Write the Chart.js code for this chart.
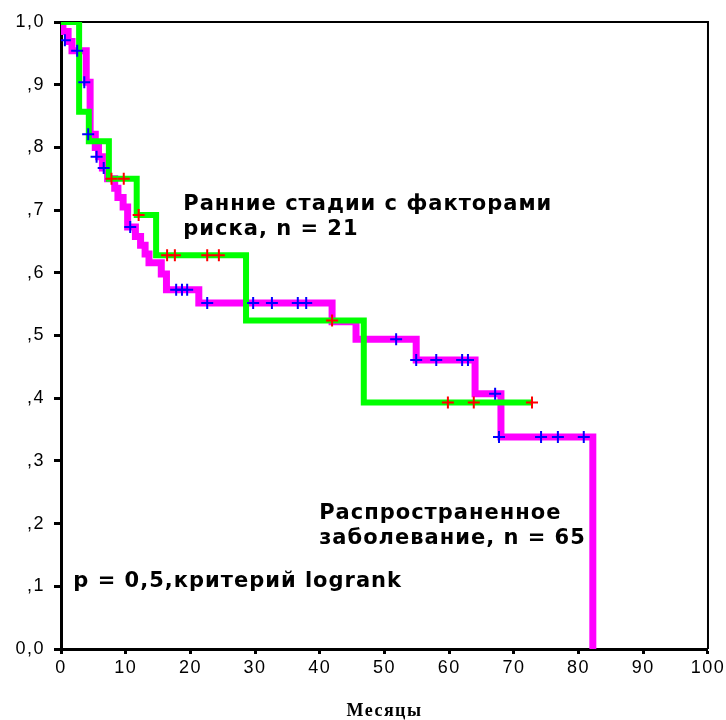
<!DOCTYPE html>
<html>
<head>
<meta charset="utf-8">
<script src="https://cdn.jsdelivr.net/npm/chart.js@4/dist/chart.umd.min.js"></script>
<style>
  body { margin: 0; background: #fff; }
  #wrap { width: 726px; height: 720px; position: relative; }
</style>
</head>
<body>
<div id="wrap"><canvas id="kmChart"></canvas></div>
<script>
// оси
const xTickLabels = ['0', '10', '20', '30', '40', '50', '60', '70', '80', '90', '100'];
const yTickLabels = ['0,0', ',1', ',2', ',3', ',4', ',5', ',6', ',7', ',8', ',9', '1,0'];
const xTitle = 'Месяцы';

// ранние стадии с факторами риска (n = 21) - зелёная линия
const earlyMonths = [0, 2.8, 4.3, 7.4, 11.7, 14.7, 28.6, 46.8, 72.8];
const earlySurv = [1.0, 0.857, 0.810, 0.750, 0.692, 0.628, 0.524, 0.393, 0.393];
const earlyCensMonths = [7.8, 9.7, 12.0, 16.4, 17.6, 22.6, 24.4, 41.9, 59.8, 63.8, 72.8];
const earlyCensSurv = [0.750, 0.750, 0.692, 0.628, 0.628, 0.628, 0.628, 0.524, 0.393, 0.393, 0.393];

// распространенное заболевание (n = 65) - розовая линия
const advMonths = [0, 0.3, 1.1, 1.7, 3.9, 4.5, 5.3, 5.8, 6.4, 7.2, 8.3, 8.8, 9.6, 10.3, 11.5, 12.3, 13.0, 13.6, 15.5, 16.3, 21.3, 41.9, 45.6, 54.9, 64.0, 68.0, 82.2];
const advSurv = [1.0, 0.985, 0.969, 0.954, 0.904, 0.821, 0.800, 0.785, 0.767, 0.750, 0.735, 0.720, 0.705, 0.673, 0.658, 0.644, 0.630, 0.616, 0.598, 0.573, 0.552, 0.522, 0.494, 0.461, 0.407, 0.338, 0];
const advCensMonths = [0.6, 2.5, 3.6, 4.2, 5.5, 6.6, 10.7, 17.8, 18.7, 19.5, 22.6, 29.7, 32.6, 36.6, 37.9, 51.8, 54.9, 58.0, 62.0, 62.9, 67.1, 67.7, 74.2, 76.8, 80.8];
const advCensSurv = [0.971, 0.954, 0.904, 0.821, 0.785, 0.767, 0.673, 0.573, 0.573, 0.573, 0.552, 0.552, 0.552, 0.552, 0.552, 0.494, 0.461, 0.461, 0.461, 0.461, 0.407, 0.338, 0.338, 0.338, 0.338];

// подписи на графике (x в месяцах, y - доля)
const notes = [
  { lines: ['Ранние стадии с факторами', 'риска, n = 21'], x: 18.9, y: 0.700 },
  { lines: ['Распространенное', 'заболевание, n = 65'], x: 39.9, y: 0.207 },
  { lines: ['p = 0,5,критерий logrank'], x: 1.9, y: 0.099 }
];

function toPoints(xs, ys) {
  return xs.map((x, i) => ({ x: x, y: ys[i] }));
}

// рамка сверху и справа
const frame = {
  id: 'frame',
  beforeDraw(chart) {
    chart.ctx.letterSpacing = '1.5px';
  },
  beforeDatasetsDraw(chart) {
    const { ctx, chartArea: a } = chart;
    ctx.save();
    ctx.strokeStyle = '#000';
    ctx.lineWidth = 2;
    ctx.beginPath();
    ctx.moveTo(a.left, a.top);
    ctx.lineTo(a.right, a.top);
    ctx.lineTo(a.right, a.bottom);
    ctx.stroke();
    ctx.restore();
  }
};

const labels = {
  id: 'labels',
  afterDatasetsDraw(chart) {
    const ctx = chart.ctx;
    const xs = chart.scales.x, ys = chart.scales.y;
    ctx.save();
    ctx.letterSpacing = '1px';
    ctx.fillStyle = '#000';
    ctx.font = 'bold 21px "DejaVu Sans"';
    ctx.textAlign = 'left';
    ctx.textBaseline = 'alphabetic';
    notes.forEach(n => {
      const px = xs.getPixelForValue(n.x);
      const py = ys.getPixelForValue(n.y);
      n.lines.forEach((line, i) => ctx.fillText(line, px, py + i * 25));
    });
    ctx.restore();
  }
};

const chart = new Chart(document.getElementById('kmChart'), {
  type: 'scatter',
  data: {
    datasets: [
      {
        label: 'cens early',
        data: toPoints(earlyCensMonths, earlyCensSurv),
        showLine: false,
        pointStyle: 'cross',
        pointRadius: 6,
        pointBorderWidth: 2,
        borderColor: '#ff0000',
        order: 0
      },
      {
        label: 'cens adv',
        data: toPoints(advCensMonths, advCensSurv),
        showLine: false,
        pointStyle: 'cross',
        pointRadius: 6,
        pointBorderWidth: 2,
        borderColor: '#0000ff',
        order: 0
      },
      {
        label: 'early',
        data: toPoints(earlyMonths, earlySurv),
        showLine: true,
        stepped: 'before',
        borderColor: '#00ff00',
        borderWidth: 6,
        borderJoinStyle: 'miter',
        pointRadius: 0,
        order: 1
      },
      {
        label: 'adv',
        data: toPoints(advMonths, advSurv),
        showLine: true,
        stepped: 'before',
        borderColor: '#ff00ff',
        borderWidth: 7,
        borderJoinStyle: 'miter',
        pointRadius: 0,
        order: 2
      }
    ]
  },
  options: {
    responsive: true,
    maintainAspectRatio: false,
    animation: false,
    layout: { padding: { top: 22, right: 18, bottom: 0, left: 0 } },
    plugins: {
      legend: { display: false },
      tooltip: { enabled: false }
    },
    scales: {
      x: {
        type: 'linear',
        min: 0,
        max: 100,
        afterFit: s => { s.height = 71; },
        ticks: {
          stepSize: 10,
          padding: 3,
          color: '#000',
          font: { family: 'Arial', size: 18 },
          callback: (v, i) => xTickLabels[i]
        },
        grid: { display: true, drawOnChartArea: false, drawTicks: true, tickLength: 5, tickWidth: 3, tickColor: '#000', color: '#000' },
        border: { display: true, color: '#000', width: 3 },
        title: {
          display: true,
          text: xTitle,
          color: '#000',
          font: { family: 'Liberation Serif', size: 18, weight: 'bold', lineHeight: 1 },
          padding: { top: 0, bottom: 0 }
        }
      },
      y: {
        type: 'linear',
        min: 0,
        max: 1,
        afterFit: s => { s.width = 61; },
        ticks: {
          stepSize: 0.1,
          padding: 9,
          color: '#000',
          font: { family: 'Arial', size: 18 },
          callback: (v, i) => yTickLabels[i]
        },
        grid: { display: true, drawOnChartArea: false, drawTicks: true, tickLength: 7, tickWidth: 3, tickColor: '#000', color: '#000' },
        border: { display: true, color: '#000', width: 3 }
      }
    }
  },
  plugins: [frame, labels]
});
</script>
</body>
</html>
